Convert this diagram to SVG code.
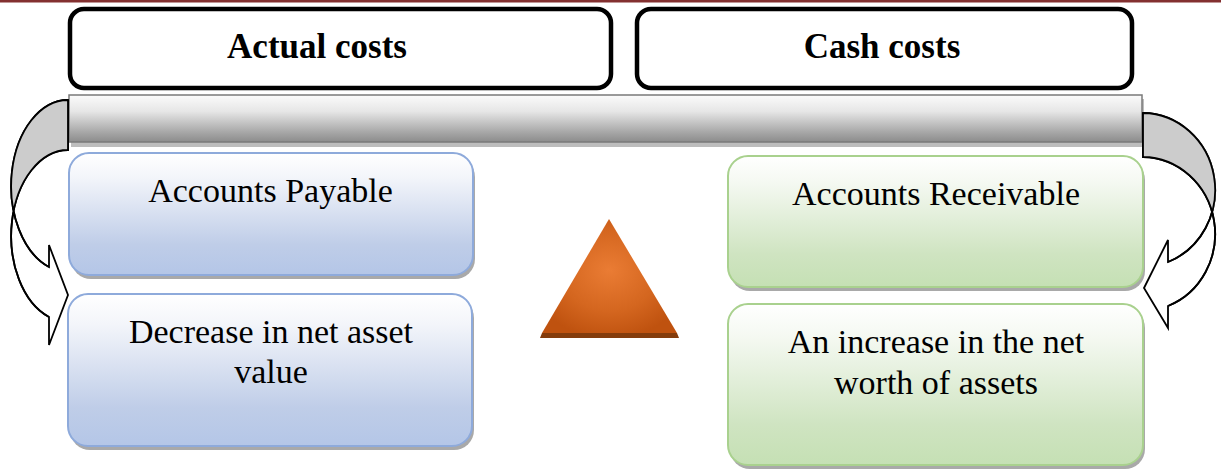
<svg xmlns="http://www.w3.org/2000/svg" width="1221" height="470" viewBox="0 0 1221 470">
<style>
.title{font-family:"Liberation Serif","Times New Roman",serif;font-weight:bold;font-size:35px;fill:#000;text-anchor:middle}
.lbl{font-family:"Liberation Serif","Times New Roman",serif;font-size:34px;fill:#000;text-anchor:middle}
.hdr{fill:#fff;stroke:#000;stroke-width:4.5}
.blue{fill:url(#gBlue);stroke:#8eaadb;stroke-width:2}
.green{fill:url(#gGreen);stroke:#a9d18e;stroke-width:2}
.shadow{fill:#8c8c8c;opacity:0.75}
.arrow{fill:#fff;stroke:#000;stroke-width:1.8;stroke-linejoin:miter}
.back{fill:#cccccc;stroke:none}
</style>
<defs>
<linearGradient id="gBlue" x1="0" y1="0" x2="0" y2="1">
<stop offset="0" stop-color="#ffffff"/>
<stop offset="0.2" stop-color="#f3f5fa"/>
<stop offset="0.75" stop-color="#bfcde8"/>
<stop offset="1" stop-color="#b4c6e7"/>
</linearGradient>
<linearGradient id="gGreen" x1="0" y1="0" x2="0" y2="1">
<stop offset="0" stop-color="#ffffff"/>
<stop offset="0.2" stop-color="#f5f9f2"/>
<stop offset="0.75" stop-color="#cfe4c1"/>
<stop offset="1" stop-color="#c5e0b4"/>
</linearGradient>
<linearGradient id="gBar" x1="0" y1="0" x2="0" y2="1">
<stop offset="0" stop-color="#fbfbfb"/>
<stop offset="0.35" stop-color="#e6e6e6"/>
<stop offset="0.8" stop-color="#a6a6a6"/>
<stop offset="1" stop-color="#8c8c8c"/>
</linearGradient>
<radialGradient id="gTri" cx="0.5" cy="0.45" r="0.6">
<stop offset="0" stop-color="#ea7c34"/>
<stop offset="0.6" stop-color="#d4661f"/>
<stop offset="1" stop-color="#bf520f"/>
</radialGradient>
</defs>

<rect x="0" y="0" width="1221" height="2.5" fill="#833030"/>

<g id="actual-costs">
<rect class="hdr" x="70" y="9" width="541" height="79" rx="14"/>
<text class="title" x="317" y="58">Actual costs</text>
</g>
<g id="cash-costs">
<rect class="hdr" x="637" y="9" width="495" height="79" rx="14"/>
<text class="title" x="882" y="58">Cash costs</text>
</g>

<g id="bar">
<rect x="71" y="99" width="1073" height="48" fill="#bdbdbd"/>
<rect x="69" y="95" width="1073" height="47" fill="url(#gBar)" stroke="#7a7a7a" stroke-width="1.5"/>
</g>

<g id="accounts-payable">
<rect class="shadow" x="71" y="157" width="404" height="122" rx="20"/>
<rect class="blue" x="69" y="153" width="404" height="122" rx="20"/>
<text class="lbl" x="270.5" y="202">Accounts Payable</text>
</g>
<g id="decrease">
<rect class="shadow" x="70" y="298" width="404" height="152" rx="20"/>
<rect class="blue" x="68" y="294" width="404" height="152" rx="20"/>
<text class="lbl" x="271" y="343">Decrease in net asset</text>
<text class="lbl" x="271" y="383">value</text>
</g>

<g id="accounts-receivable">
<rect class="shadow" x="730" y="160" width="415" height="131" rx="20"/>
<rect class="green" x="728" y="156" width="415" height="131" rx="20"/>
<text class="lbl" x="936" y="205">Accounts Receivable</text>
</g>
<g id="increase">
<rect class="shadow" x="730" y="308" width="415" height="161" rx="20"/>
<rect class="green" x="728" y="304" width="415" height="161" rx="20"/>
<text class="lbl" x="936" y="353">An increase in the net</text>
<text class="lbl" x="936" y="394">worth of assets</text>
</g>

<g id="triangle">
<polygon points="609,219 677,333 542,333" fill="url(#gTri)"/>
<polygon points="542,333 677,333 679,338 540,338" fill="#843c0c"/>
</g>

<g id="connectors">
<g id="left-arrow">
<path class="arrow" d="M68,100 A57,86 0 0 0 49,267 L49,245 L68,295 L49,345 L49,317 A57,86 0 0 1 68,150 Z"/>
<path class="back" d="M68,100 A57,86 0 0 0 13.5,211 A57,86 0 0 1 68,150 Z"/>
<path fill="none" stroke="#000" stroke-width="1.8" d="M68,100 A57,86 0 0 0 49,267 M49,317 A57,86 0 0 1 68,150 L68,100"/>
</g>
<g id="right-arrow">
<path class="arrow" d="M1143,113 A73,77 0 0 1 1168,262 L1168,240 L1144,288 L1168,328 L1168,306 A73,77 0 0 0 1143,157 Z"/>
<path class="back" d="M1143,113 A73,77 0 0 1 1212.9,212 A73,77 0 0 0 1143,157 Z"/>
<path fill="none" stroke="#000" stroke-width="1.8" d="M1143,113 A73,77 0 0 1 1168,262 M1168,306 A73,77 0 0 0 1143,157 L1143,113"/>
</g>
</g>
</svg>
